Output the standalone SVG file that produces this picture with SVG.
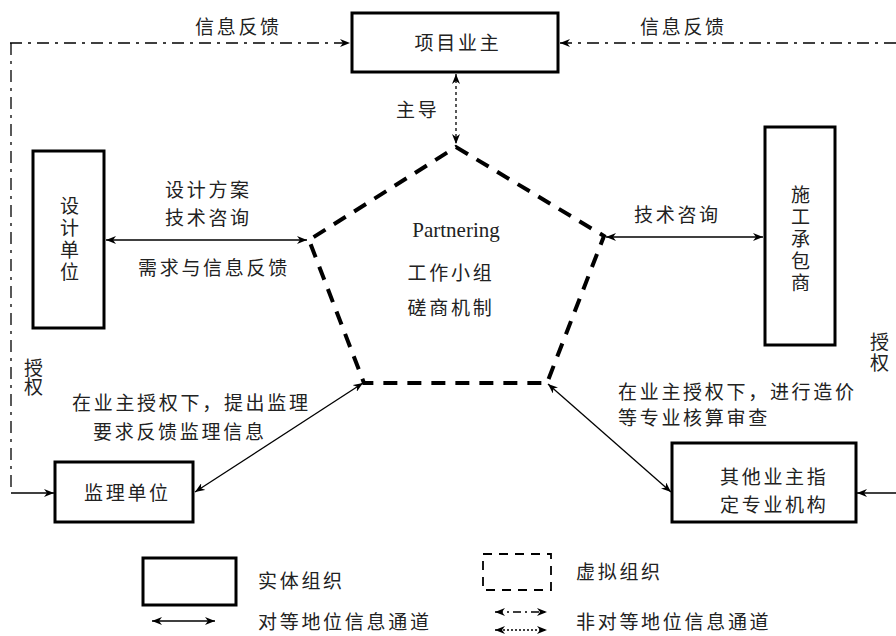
<svg xmlns="http://www.w3.org/2000/svg" width="896" height="636" viewBox="0 0 896 636">
<style>
text{font-family:"Liberation Serif","Noto Sans CJK SC",serif;font-size:19px;fill:#222;letter-spacing:2.7px}
.box{fill:#fff;stroke:#000;stroke-width:3}
.c{text-anchor:middle}
.ln{fill:none;stroke:#000;stroke-width:1.3}
.dd{fill:none;stroke:#000;stroke-width:1.3;stroke-dasharray:12 6 3 6}
.dot{fill:none;stroke:#000;stroke-width:1.3;stroke-dasharray:3 3}
.pent{fill:none;stroke:#000;stroke-width:4;stroke-dasharray:14 10}
</style>
<defs>
<marker id="a" viewBox="0 0 10 8" refX="10" refY="4" markerWidth="10" markerHeight="8" markerUnits="userSpaceOnUse" orient="auto-start-reverse">
<path d="M0,0 L10,4 L0,8 L3,4 z" fill="#000"/>
</marker>
</defs>

<g id="connectors">
<path class="dd" d="M10,43 H350" marker-end="url(#a)"/>
<path class="dd" d="M896,43 H560" marker-end="url(#a)"/>
<path class="dd" d="M11,43 V490"/>
<path class="ln" d="M11,493 H54" marker-end="url(#a)"/>
<path class="ln" d="M896,493 H857" marker-end="url(#a)"/>
<path class="dot" d="M456,74 V144" marker-start="url(#a)" marker-end="url(#a)"/>
<path class="ln" d="M106,240 H307" marker-start="url(#a)" marker-end="url(#a)"/>
<path class="ln" d="M606,237 H763" marker-start="url(#a)" marker-end="url(#a)"/>
<path class="ln" d="M363,383 L195,492" marker-start="url(#a)" marker-end="url(#a)"/>
<path class="ln" d="M548,384 L671,492" marker-start="url(#a)" marker-end="url(#a)"/>
</g>

<g id="owner">
<rect class="box" x="352" y="13" width="206" height="59"/>
<text class="c" x="458" y="50">项目业主</text>
</g>
<g id="partnering">
<path class="pent" d="M456,147 L604,236 L547,383 L364,383 L309,240 Z"/>
<text class="c" x="456" y="237" style="font-size:21px;letter-spacing:0">Partnering</text>
<text class="c" x="451" y="280">工作小组</text>
<text class="c" x="451" y="315">磋商机制</text>
</g>
<g id="design">
<rect class="box" x="33" y="151" width="71" height="177"/>
<text x="60" y="213">设</text>
<text x="60" y="235">计</text>
<text x="60" y="257">单</text>
<text x="60" y="279">位</text>
</g>
<g id="contractor">
<rect class="box" x="765" y="127" width="70" height="218"/>
<text x="791" y="202">施</text>
<text x="791" y="224">工</text>
<text x="791" y="246">承</text>
<text x="791" y="268">包</text>
<text x="791" y="290">商</text>
</g>
<g id="supervisor">
<rect class="box" x="55" y="462" width="138" height="60"/>
<text x="84" y="500">监理单位</text>
</g>
<g id="other">
<rect class="box" x="672" y="443" width="184" height="79"/>
<text x="720" y="484">其他业主指</text>
<text x="720" y="512">定专业机构</text>
</g>

<g id="labels">
<text x="195" y="34">信息反馈</text>
<text x="640" y="34">信息反馈</text>
<text x="396" y="117">主导</text>
<text x="165" y="197">设计方案</text>
<text x="165" y="225">技术咨询</text>
<text x="138" y="275">需求与信息反馈</text>
<text x="634" y="222">技术咨询</text>
<text x="24" y="375">授</text>
<text x="24" y="394">权</text>
<text x="870" y="349">授</text>
<text x="870" y="370">权</text>
<text x="72" y="410">在业主授权下，提出监理</text>
<text x="93" y="439">要求反馈监理信息</text>
<text x="618" y="399">在业主授权下，进行造价</text>
<text x="618" y="425">等专业核算审查</text>
</g>

<g id="legend">
<rect class="box" x="143" y="558" width="93" height="47"/>
<text x="258" y="588">实体组织</text>
<path class="ln" d="M152,621 H215" marker-start="url(#a)" marker-end="url(#a)"/>
<text x="258" y="629">对等地位信息通道</text>
<rect x="483" y="554" width="68" height="36" fill="none" stroke="#000" stroke-width="1.8" stroke-dasharray="9 7"/>
<text x="576" y="579">虚拟组织</text>
<path class="dd" d="M495,612 H547" style="stroke-dasharray:8 4 2 4" marker-start="url(#a)" marker-end="url(#a)"/>
<path class="dot" d="M495,630 H547" style="stroke-dasharray:2 2" marker-start="url(#a)" marker-end="url(#a)"/>
<text x="576" y="629">非对等地位信息通道</text>
</g>
</svg>
